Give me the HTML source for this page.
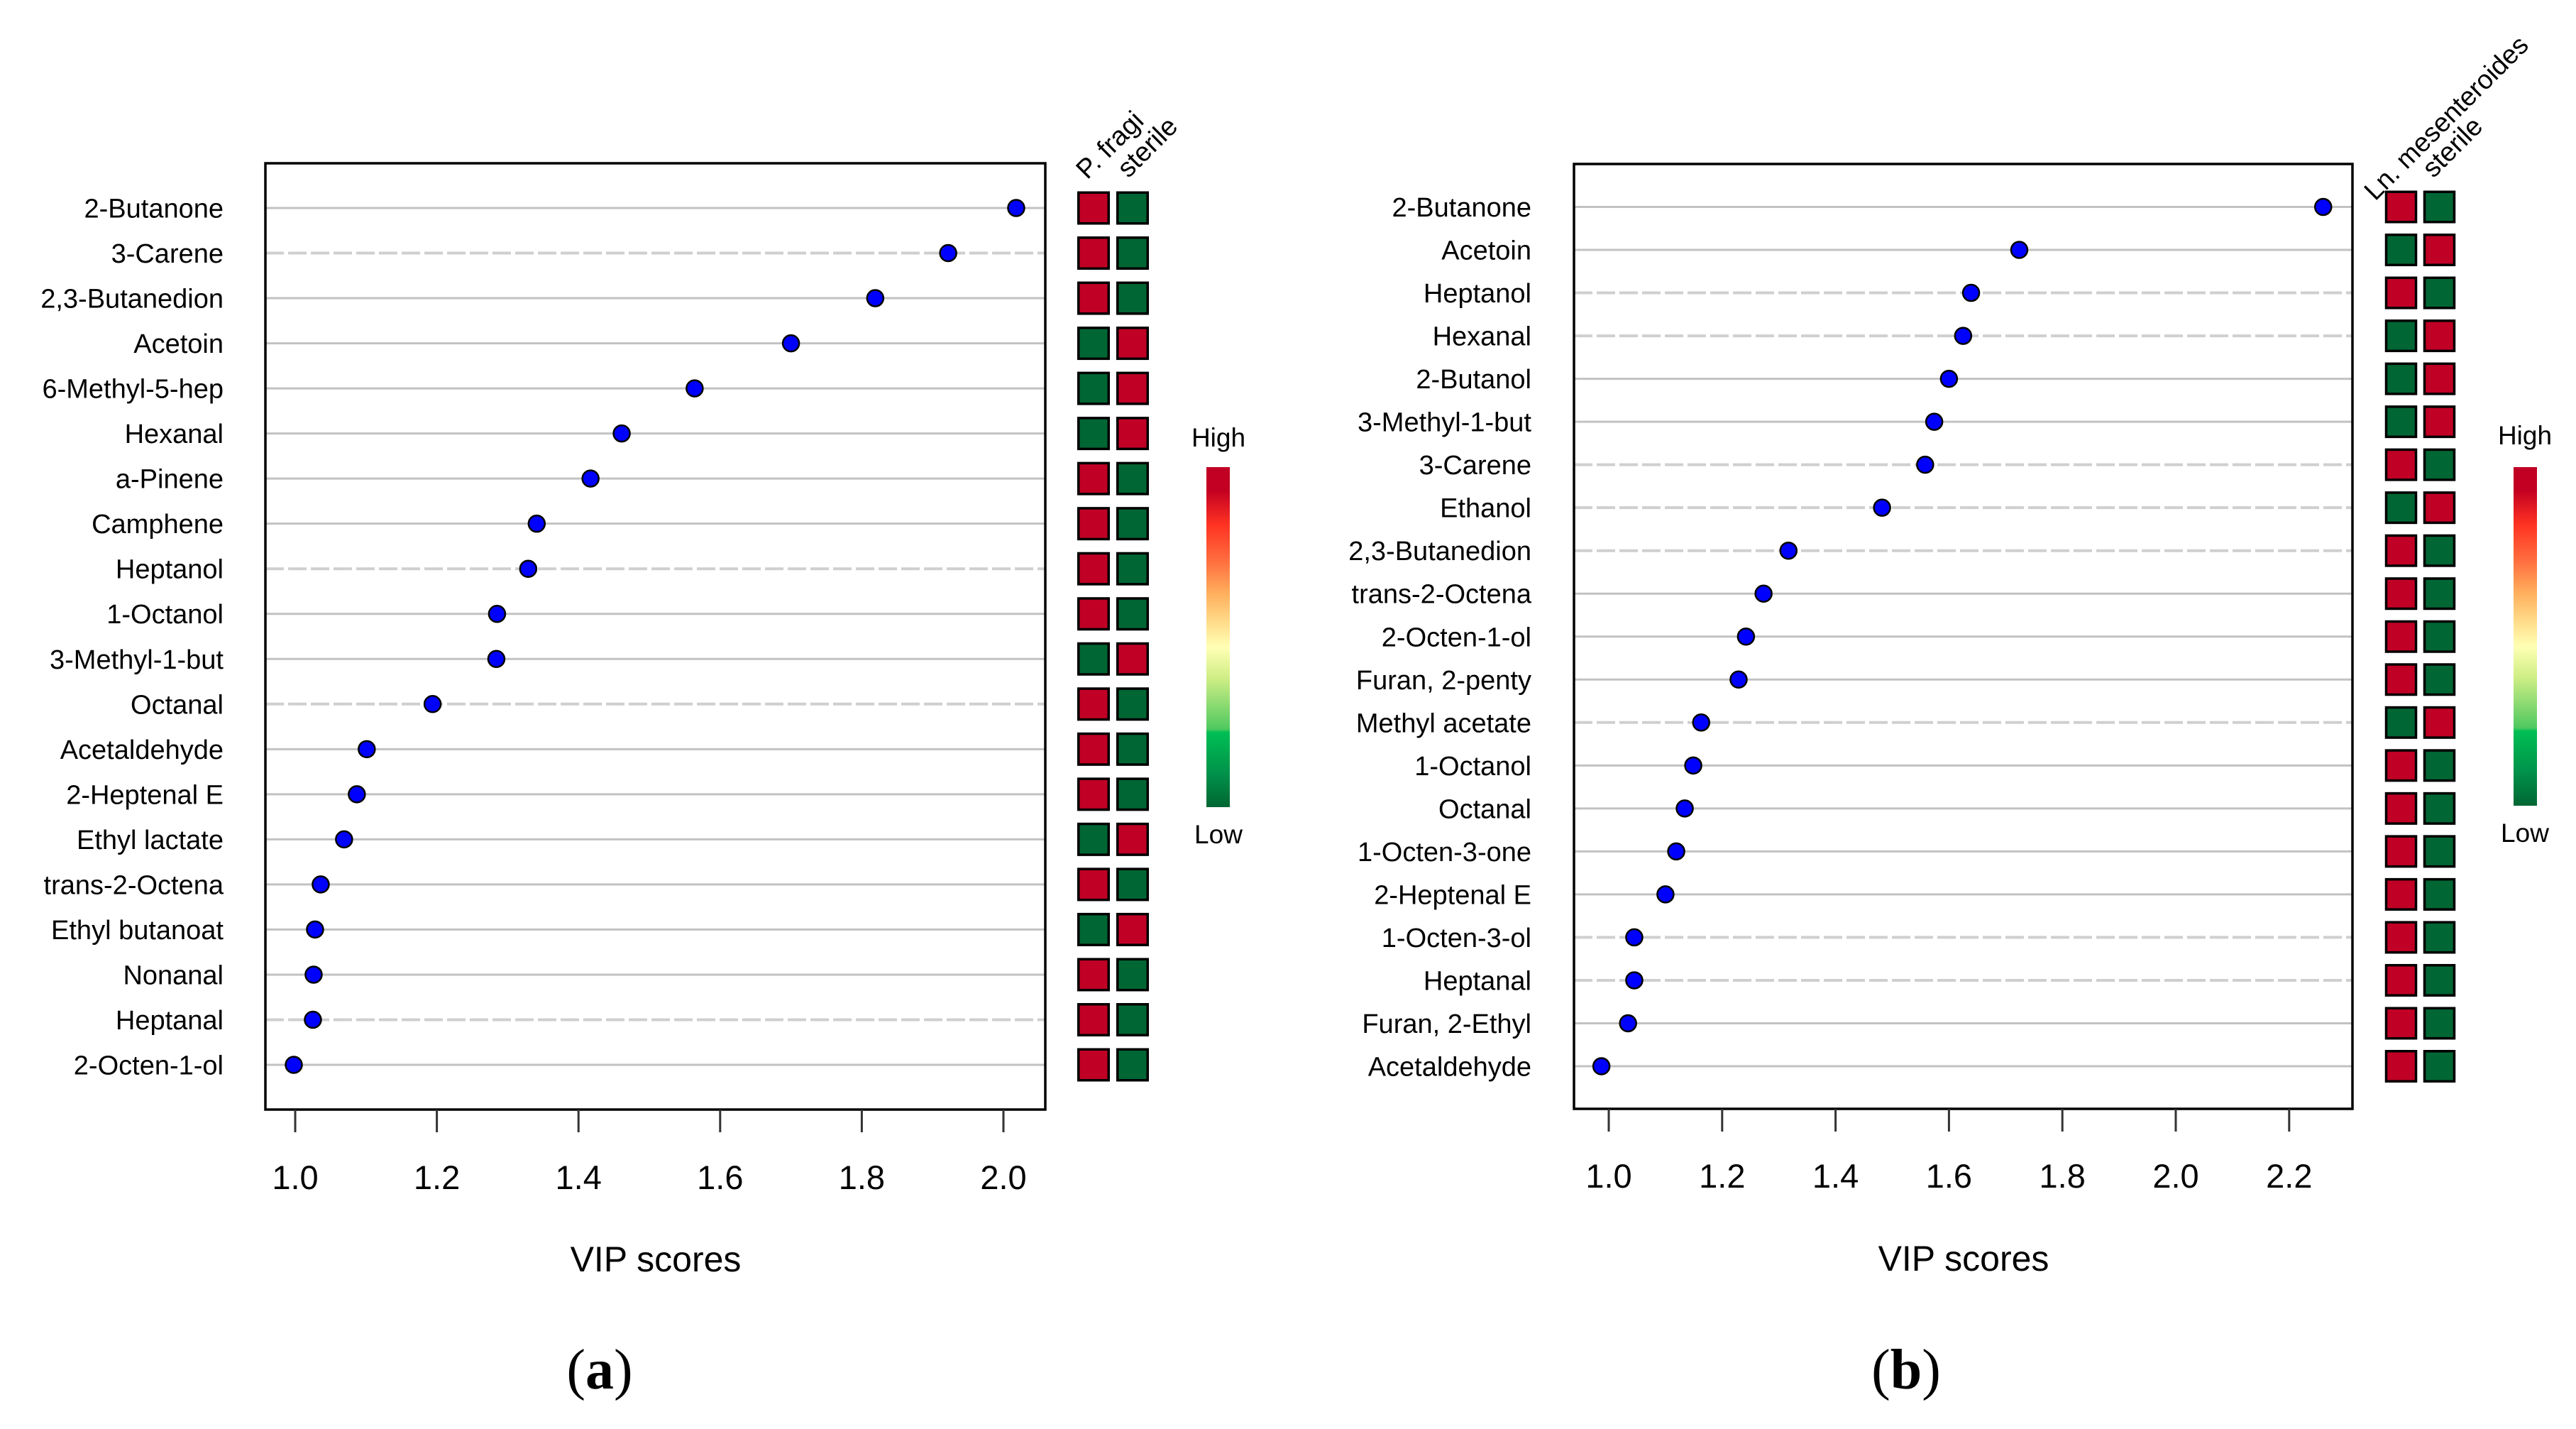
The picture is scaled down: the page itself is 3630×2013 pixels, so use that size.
<!DOCTYPE html>
<html lang="en">
<head>
<meta charset="utf-8">
<title>VIP scores dot charts</title>
<style>
  html, body { margin: 0; padding: 0; background: #fff; }
  body { width: 3630px; height: 2013px; overflow: hidden; }
  svg { display: block; }
  text { font-family: "Liberation Sans", sans-serif; fill: #000; }
  .caption { font-family: "Liberation Serif", serif; font-size: 80px; }
  .caption tspan { font-weight: bold; }
</style>
</head>
<body>
<svg id="figure" xmlns="http://www.w3.org/2000/svg" width="3630" height="2013" viewBox="0 0 3630 2013">
  <defs>
    <linearGradient id="heat-gradient" x1="0" y1="0" x2="0" y2="1">
      <stop offset="0" stop-color="#c00025"/>
      <stop offset="0.07" stop-color="#c40022"/>
      <stop offset="0.17" stop-color="#ff3322"/>
      <stop offset="0.28" stop-color="#ff7040"/>
      <stop offset="0.37" stop-color="#ffae5c"/>
      <stop offset="0.46" stop-color="#ffde8c"/>
      <stop offset="0.53" stop-color="#ffffb4"/>
      <stop offset="0.62" stop-color="#cfee86"/>
      <stop offset="0.77" stop-color="#4fc95f"/>
      <stop offset="0.78" stop-color="#00bf54"/>
      <stop offset="0.9" stop-color="#00924a"/>
      <stop offset="1" stop-color="#006633"/>
    </linearGradient>
  </defs>
  <rect x="0" y="0" width="3630" height="2013" fill="#ffffff"/>

  <g id="panel-a"></g>
  <g id="panel-b"></g>

  <g font-size="38">
    <text transform="translate(1532 254) rotate(-45)">P. fragi</text>
    <text transform="translate(1590 252) rotate(-45)">sterile</text>
  </g>
  <g font-size="37.5">
    <text transform="translate(3347 284) rotate(-45)">Ln. mesenteroides</text>
    <text font-size="38" transform="translate(3429 252) rotate(-45)">sterile</text>
  </g>

  <g>
    <text x="1717" y="629" font-size="37" text-anchor="middle">High</text>
    <rect x="1700" y="658" width="33" height="479" fill="url(#heat-gradient)"/>
    <text x="1717" y="1188" font-size="37" text-anchor="middle">Low</text>
  </g>
  <g>
    <text x="3558" y="626" font-size="37" text-anchor="middle">High</text>
    <rect x="3542" y="658" width="33" height="477" fill="url(#heat-gradient)"/>
    <text x="3558" y="1186" font-size="37" text-anchor="middle">Low</text>
  </g>

  <text class="caption" x="845" y="1956" text-anchor="middle">(<tspan>a</tspan>)</text>
  <text class="caption" x="2686" y="1956" text-anchor="middle">(<tspan>b</tspan>)</text>
</svg>

<script>
// ---- Chart data: panel (a) ----
const aCategories = ["2-Butanone","3-Carene","2,3-Butanedion","Acetoin","6-Methyl-5-hep","Hexanal","a-Pinene","Camphene","Heptanol","1-Octanol","3-Methyl-1-but","Octanal","Acetaldehyde","2-Heptenal E","Ethyl lactate","trans-2-Octena","Ethyl butanoat","Nonanal","Heptanal","2-Octen-1-ol"];
const aScores = [2.018,1.922,1.819,1.700,1.564,1.461,1.417,1.341,1.329,1.285,1.284,1.194,1.101,1.087,1.069,1.036,1.028,1.026,1.025,0.998];
const aFirstColumn = ["high","high","high","low","low","low","high","high","high","high","low","high","high","high","low","high","low","high","high","high"];
const aSecondColumn = ["low","low","low","high","high","high","low","low","low","low","high","low","low","low","high","low","high","low","low","low"];
const aTickValues = [1.0,1.2,1.4,1.6,1.8,2.0];
const aTickLabels = ["1.0","1.2","1.4","1.6","1.8","2.0"];

// ---- Chart data: panel (b) ----
const bCategories = ["2-Butanone","Acetoin","Heptanol","Hexanal","2-Butanol","3-Methyl-1-but","3-Carene","Ethanol","2,3-Butanedion","trans-2-Octena","2-Octen-1-ol","Furan, 2-penty","Methyl acetate","1-Octanol","Octanal","1-Octen-3-one","2-Heptenal E","1-Octen-3-ol","Heptanal","Furan, 2-Ethyl","Acetaldehyde"];
const bScores = [2.260,1.724,1.639,1.625,1.600,1.574,1.558,1.482,1.317,1.273,1.242,1.229,1.163,1.149,1.134,1.119,1.100,1.045,1.045,1.034,0.987];
const bFirstColumn = ["high","low","high","low","low","low","high","low","high","high","high","high","low","high","high","high","high","high","high","high","high"];
const bSecondColumn = ["low","high","low","high","high","high","low","high","low","low","low","low","high","low","low","low","low","low","low","low","low"];
const bTickValues = [1.0,1.2,1.4,1.6,1.8,2.0,2.2];
const bTickLabels = ["1.0","1.2","1.4","1.6","1.8","2.0","2.2"];

const xAxisTitle = "VIP scores";
const levelColors = { high: "#c00025", low: "#006633" };

const SVG_NS = "http://www.w3.org/2000/svg";

function shape(parent, tag, attrs, content) {
  const el = document.createElementNS(SVG_NS, tag);
  for (const key in attrs) el.setAttribute(key, attrs[key]);
  if (content !== undefined) el.textContent = content;
  parent.appendChild(el);
  return el;
}

function drawPanel(parent, cats, scores, col1, col2, tickValues, tickLabels, g) {
  const xScale = v => g.x1 + (v - 1) * g.pxPerUnit;
  const yScale = i => g.firstRow + i * (g.lastRow - g.firstRow) / (cats.length - 1);

  cats.forEach((name, i) => {
    const y = yScale(i);
    const soft = g.softRows.includes(name);

    const line = shape(parent, "line", soft
      ? { x1: g.left, x2: g.right, y1: y, y2: y, stroke: "#cfcfcf", "stroke-width": 4, "stroke-dasharray": "26 6" }
      : { x1: g.left, x2: g.right, y1: y, y2: y, stroke: "#c2c2c2", "stroke-width": 3 });
    
    

    const label = shape(parent, "text", { x: g.labelRight, y: y + 13.5, "font-size": 38, "text-anchor": "end" }, name);
    
    

    const dot = shape(parent, "circle", { cx: xScale(scores[i]), cy: y, r: 11.5, fill: "#0000ff", stroke: "#000", "stroke-width": 2.5 });
    
    

    const cellA = shape(parent, "rect", { x: g.col1 - g.cellW / 2 + 1.75, y: y - g.cellH / 2 + 1.75, width: g.cellW - 3.5, height: g.cellH - 3.5, fill: levelColors[col1[i]], stroke: "#000", "stroke-width": 3.5 });
    
    

    const cellB = shape(parent, "rect", { x: g.col2 - g.cellW / 2 + 1.75, y: y - g.cellH / 2 + 1.75, width: g.cellW - 3.5, height: g.cellH - 3.5, fill: levelColors[col2[i]], stroke: "#000", "stroke-width": 3.5 });
    
    
  });

  const frame = shape(parent, "rect", { x: g.left, y: g.top, width: g.right - g.left, height: g.bottom - g.top, fill: "none", stroke: "#000", "stroke-width": 3.5 });
  
  

  tickValues.forEach((v, i) => {
    const x = xScale(v);

    const tick = shape(parent, "line", { x1: x, x2: x, y1: g.bottom, y2: g.bottom + 32, stroke: "#333", "stroke-width": 3 });
    
    

    const tickLabel = shape(parent, "text", { x: x, y: g.tickBase, "font-size": 47, "text-anchor": "middle" }, tickLabels[i]);
    
    
  });

  const title = shape(parent, "text", { x: g.titleX, y: g.titleBase, "font-size": 50, "text-anchor": "middle" }, xAxisTitle);
  
  
}

drawPanel(document.getElementById("panel-a"), aCategories, aScores, aFirstColumn, aSecondColumn, aTickValues, aTickLabels, {
  left: 374, right: 1473, top: 230, bottom: 1563, x1: 416, pxPerUnit: 998,
  firstRow: 293, lastRow: 1500, labelRight: 315, col1: 1541, col2: 1596, cellW: 46, cellH: 47,
  tickBase: 1675, titleX: 924, titleBase: 1791,
  softRows: ["3-Carene","Heptanol","Octanal","Heptanal"]
});

drawPanel(document.getElementById("panel-b"), bCategories, bScores, bFirstColumn, bSecondColumn, bTickValues, bTickLabels, {
  left: 2218, right: 3315, top: 231, bottom: 1562, x1: 2267, pxPerUnit: 799,
  firstRow: 291.5, lastRow: 1502, labelRight: 2158, col1: 3383.5, col2: 3437.5, cellW: 45.5, cellH: 46,
  tickBase: 1673, titleX: 2767, titleBase: 1790,
  softRows: ["Heptanol","Hexanal","3-Carene","Ethanol","2,3-Butanedion","Methyl acetate","1-Octen-3-ol","Heptanal"]
});
</script>
</body>
</html>
